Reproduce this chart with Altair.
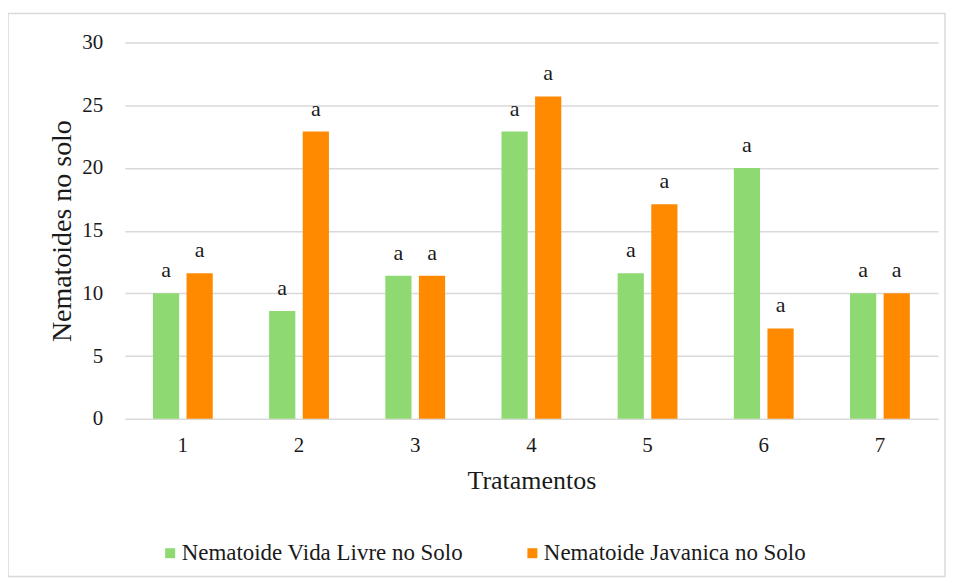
import altair as alt
import pandas as pd

tratamentos = ["1", "2", "3", "4", "5", "6", "7"]
vida_livre = [10.0, 8.6, 11.4, 22.9, 11.6, 20.0, 10.0]
javanica = [11.6, 22.9, 11.4, 25.7, 17.1, 7.2, 10.0]
letras_vida = ["a"] * 7
letras_java = ["a"] * 7
series = ["Nematoide Vida Livre no Solo", "Nematoide Javanica no Solo"]
colors = ["#8FD973", "#FF8A00"]

rows = []
for t, v, l in zip(tratamentos, vida_livre, letras_vida):
    rows.append({"Tratamento": t, "Serie": series[0], "Valor": v, "Letra": l})
for t, v, l in zip(tratamentos, javanica, letras_java):
    rows.append({"Tratamento": t, "Serie": series[1], "Valor": v, "Letra": l})
df = pd.DataFrame(rows)

FONT = "Liberation Serif"
TXT = "#1a1a1a"

x_enc = alt.X("Tratamento:N", sort=tratamentos,
              scale=alt.Scale(paddingInner=0.485, paddingOuter=0.2425),
              axis=alt.Axis(title="Tratamentos", labelAngle=0, ticks=False, domain=False,
                            labelFontSize=21, labelPadding=16, titleFontSize=26,
                            titlePadding=12, titleFontWeight="normal",
                            labelFont=FONT, titleFont=FONT))
xoff = alt.XOffset("Serie:N", sort=series, scale=alt.Scale(paddingInner=0.22))
y_enc = alt.Y("Valor:Q", scale=alt.Scale(domain=[0, 30]),
              axis=alt.Axis(title="Nematoides no solo", values=[0, 5, 10, 15, 20, 25, 30],
                            ticks=False, domain=False, labelFontSize=21, labelPadding=22,
                            titleFontSize=28, titlePadding=5, titleFontWeight="normal",
                            gridColor="#D9D9D9", gridWidth=1.5,
                            labelFont=FONT, titleFont=FONT))

bars = alt.Chart(df).mark_bar().encode(
    x=x_enc, xOffset=xoff, y=y_enc,
    color=alt.Color("Serie:N", sort=series, scale=alt.Scale(domain=series, range=colors),
                    legend=alt.Legend(title=None, orient="none", legendX=34, legendY=500,
                                      direction="horizontal", symbolType="square",
                                      symbolSize=100, symbolStrokeWidth=0, labelFontSize=23,
                                      labelFont=FONT, labelColor=TXT,
                                      labelOffset=0, columnPadding=57, labelLimit=500)),
)

labels = alt.Chart(df).mark_text(dy=-16, baseline="alphabetic", fontSize=22, font=FONT,
                                 color=TXT).encode(
    x=alt.X("Tratamento:N", sort=tratamentos), xOffset=alt.XOffset("Serie:N", sort=series),
    y="Valor:Q", text="Letra:N",
)

border = alt.Chart(alt.Data(values=[{}])).mark_rect(fill=None, stroke="#D9D9D9", strokeWidth=1.5).encode(
    x=alt.value(-117), x2=alt.value(822), y=alt.value(-29), y2=alt.value(535),
)

chart = alt.layer(bars, labels, border).properties(
    width=815, height=377,
    autosize=alt.AutoSizeParams(type="none"),
    padding={"left": 117, "top": 34, "right": 8, "bottom": 159},
).configure(font=FONT).configure_view(stroke=None).configure_axis(
    labelColor=TXT, titleColor=TXT
).configure_text(font=FONT)

chart.save("out.html", embed_options={"renderer": "svg", "actions": False})
